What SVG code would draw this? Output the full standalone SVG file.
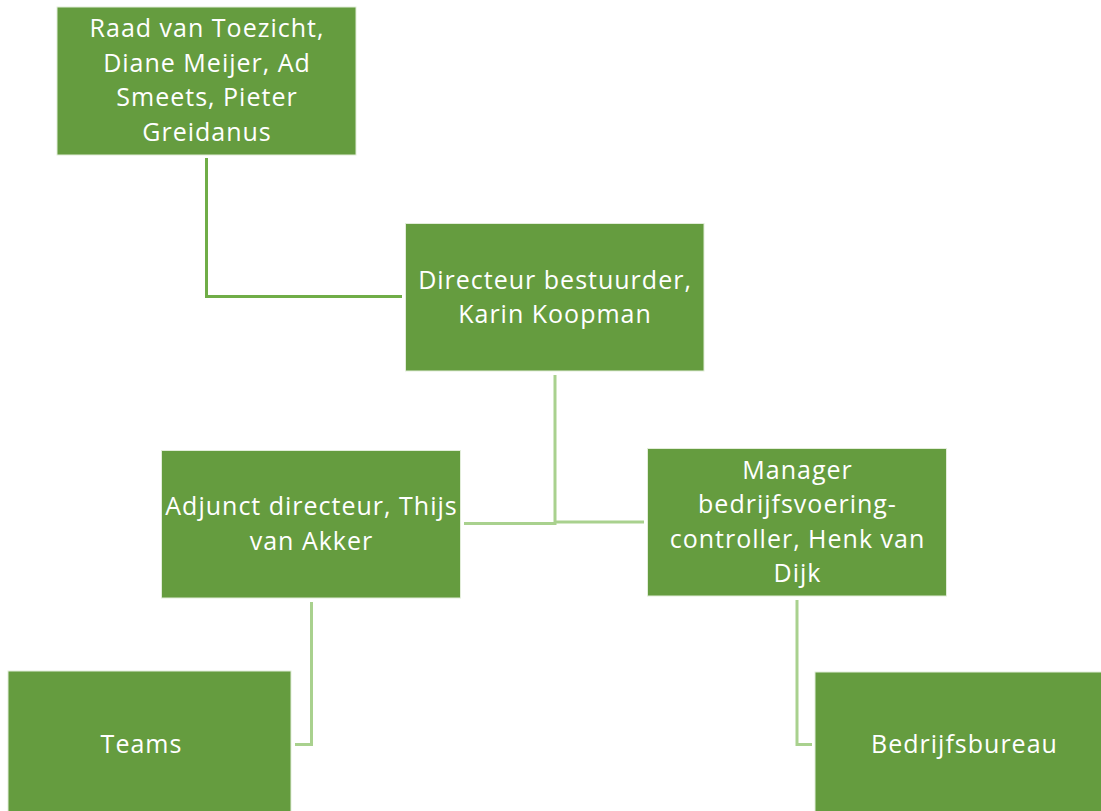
<svg xmlns="http://www.w3.org/2000/svg" width="1101" height="811" viewBox="0 0 1101 811">
<style>
.box{fill:#659C3F;stroke:#E2EDD9;stroke-width:1}
.t{font-family:"Open Sans","Noto Sans","Liberation Sans",sans-serif;font-size:25px;letter-spacing:1px;fill:#FFFFFF;text-anchor:middle}
.c1{fill:none;stroke:#70AD47;stroke-width:3}
.c2{fill:none;stroke:#A9D18E;stroke-width:3}
</style>
<rect width="1101" height="811" fill="#FFFFFF"/>
<g id="connectors">
<polyline class="c1" points="206.5,158 206.5,296.5 402,296.5"/>
<polyline class="c2" points="555,375 555,523.5 464,523.5"/>
<polyline class="c2" points="555,522 644,522"/>
<polyline class="c2" points="311.5,602 311.5,744.5 295,744.5"/>
<polyline class="c2" points="797,600 797,744.5 812,744.5"/>
</g>
<g id="raad">
<rect class="box" x="57" y="7" width="299" height="148"/>
<text class="t" x="207" y="37">Raad van Toezicht,</text>
<text class="t" x="207" y="71.5">Diane Meijer, Ad</text>
<text class="t" x="207" y="106">Smeets, Pieter</text>
<text class="t" x="207" y="140.5">Greidanus</text>
</g>
<g id="directeur">
<rect class="box" x="405.5" y="223.5" width="298.5" height="147.5"/>
<text class="t" x="555" y="288.5">Directeur bestuurder,</text>
<text class="t" x="555" y="323">Karin Koopman</text>
</g>
<g id="adjunct">
<rect class="box" x="161.5" y="450.5" width="299" height="147.5"/>
<text class="t" x="311.5" y="515">Adjunct directeur, Thijs</text>
<text class="t" x="311.5" y="549.5">van Akker</text>
</g>
<g id="manager">
<rect class="box" x="647.5" y="448.5" width="299" height="147.5"/>
<text class="t" x="797.5" y="478.5">Manager</text>
<text class="t" x="797.5" y="513">bedrijfsvoering-</text>
<text class="t" x="797.5" y="547.5">controller, Henk van</text>
<text class="t" x="797.5" y="582">Dijk</text>
</g>
<g id="teams">
<rect class="box" x="8" y="671" width="283" height="148"/>
<text class="t" x="141.5" y="753">Teams</text>
</g>
<g id="bedrijfsbureau">
<rect class="box" x="815" y="672" width="298" height="148"/>
<text class="t" x="964.5" y="753">Bedrijfsbureau</text>
</g>
</svg>
